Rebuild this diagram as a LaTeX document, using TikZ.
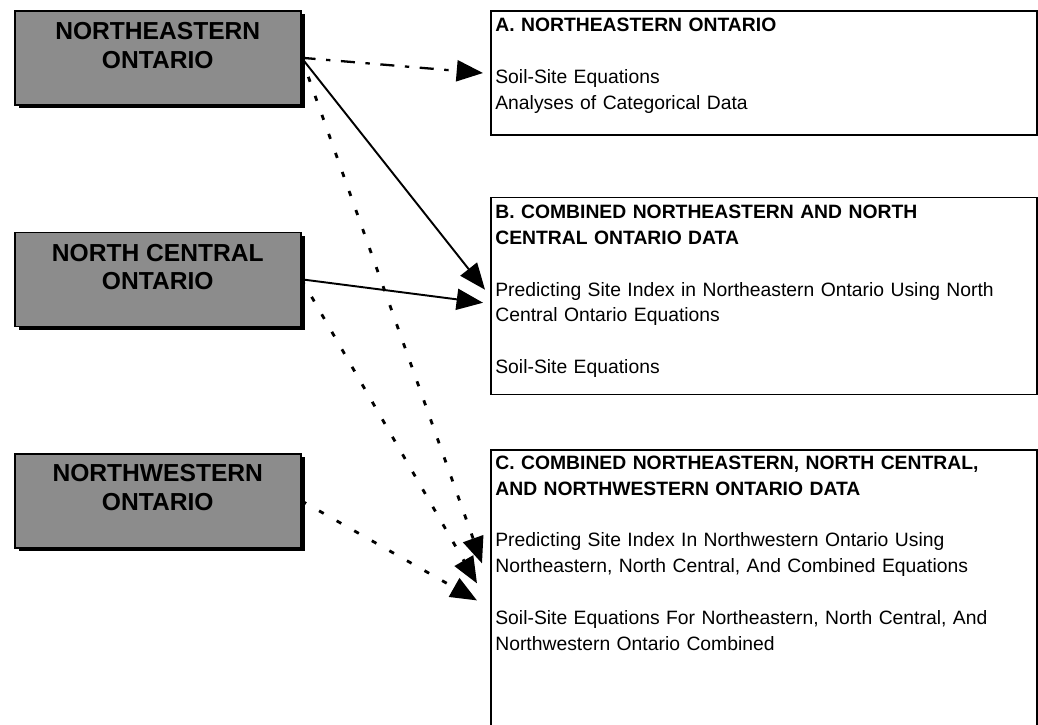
\documentclass[tikz,border=0pt]{standalone}
\usepackage{fontspec}
\setmainfont{Liberation Sans}
\usetikzlibrary{positioning, arrows.meta, shadows, calc}
\tikzset{
->, % every connector is directed
>={Triangle[length=15pt, width=12pt]}, % big filled heads
x=0.02cm, y=-0.02cm, % one unit is one pixel of the scan, y runs down
region/.style={draw, line width=0.9pt, fill=black!45, minimum width=5.72cm, minimum height=1.88cm, inner sep=0pt,
  drop shadow={shadow xshift=0.08cm, shadow yshift=-0.07cm, fill=black, opacity=1}}, % grey source boxes
regiontext/.style={font=\fontsize{14}{16.4}\selectfont\bfseries, align=center, inner sep=0pt},
result/.style={draw, line width=1pt, minimum width=10.92cm, inner sep=0pt}, % analysis boxes
resulttext/.style={font=\fontsize{11}{14.7}\selectfont, text width=10.6cm, align=left, inner sep=0pt},
link/.style={line width=1.1pt},
dotlink/.style={line width=1.6pt, dash pattern=on 3pt off 8.5pt},
dashlink/.style={line width=1.3pt, dash pattern=on 8pt off 6pt on 2.5pt off 6pt},
}

\begin{document}
\begin{tikzpicture}
\useasboundingbox (0,0) rectangle (1038,724);

% source regions
\node[region, anchor=north west] (ne) at (14,10) {};
\node[region, below=2.52cm of ne] (nc) {};
\node[region, below=2.52cm of nc] (nw) {};
\node[regiontext, anchor=north] (neLabel) at ([shift={(0,12)}]ne.north) {NORTHEASTERN\\ONTARIO};
\node[regiontext, anchor=north] (ncLabel) at ([shift={(0,12)}]nc.north) {NORTH CENTRAL\\ONTARIO};
\node[regiontext, anchor=north] (nwLabel) at ([shift={(0,11)}]nw.north) {NORTHWESTERN\\ONTARIO};

% analyses
\node[result, minimum height=2.48cm, anchor=north west] (boxA) at (490,10) {};
\node[result, minimum height=3.94cm, below=1.22cm of boxA] (boxB) {};
\node[result, minimum height=5.52cm, below=1.08cm of boxB] (boxC) {};

\node[resulttext, anchor=north west] (txtA) at ([shift={(5,8)}]boxA.north west) {%
  \textbf{A. NORTHEASTERN ONTARIO}\\[14.7pt]
  Soil-Site Equations\\
  Analyses of Categorical Data};
\node[resulttext, anchor=north west] (txtB) at ([shift={(5,8)}]boxB.north west) {%
  \textbf{B. COMBINED NORTHEASTERN AND NORTH}\\
  \textbf{CENTRAL ONTARIO DATA}\\[14.7pt]
  Predicting Site Index in Northeastern Ontario Using North\\
  Central Ontario Equations\\[14.7pt]
  Soil-Site Equations};
\node[resulttext, anchor=north west] (txtC) at ([shift={(5,6)}]boxC.north west) {%
  \textbf{C. COMBINED NORTHEASTERN, NORTH CENTRAL,}\\
  \textbf{AND NORTHWESTERN ONTARIO DATA}\\[14.7pt]
  Predicting Site Index In Northwestern Ontario Using\\
  Northeastern, North Central, And Combined Equations\\[14.7pt]
  Soil-Site Equations For Northeastern, North Central, And\\
  Northwestern Ontario Combined};

\draw[dashlink] (ne.east) -- ($(boxA.north west)+(-7,63)$);
\draw[link] (ne.east) -- ($(boxB.north west)+(-5,93)$);
\draw[link] (nc.east) -- ($(boxB.north west)+(-7,106)$);
\draw[dotlink] (ne.east) -- ($(boxC.north west)+(-8,114)$);
\draw[dotlink] (nc.east) -- ($(boxC.north west)+(-13,134)$);
\draw[dotlink] (nw.east) -- ($(boxC.north west)+(-13,151)$);
\end{tikzpicture}
\end{document}
